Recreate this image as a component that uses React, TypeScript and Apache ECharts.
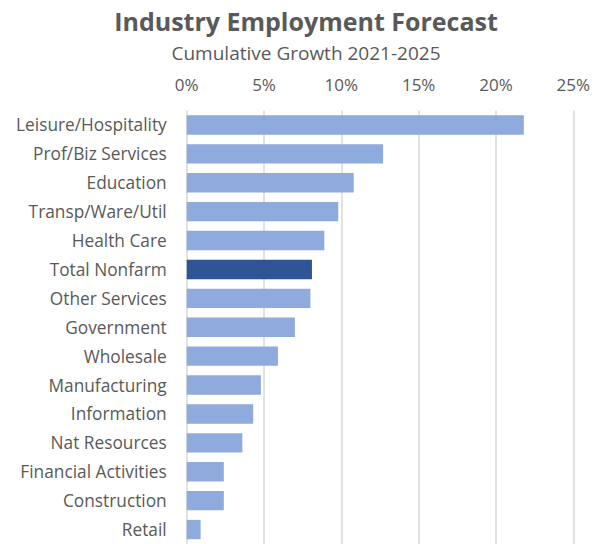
import React, { useEffect, useRef } from "react";
import * as echarts from "echarts";

const categories = [
  "Leisure/Hospitality",
  "Prof/Biz Services",
  "Education",
  "Transp/Ware/Util",
  "Health Care",
  "Total Nonfarm",
  "Other Services",
  "Government",
  "Wholesale",
  "Manufacturing",
  "Information",
  "Nat Resources",
  "Financial Activities",
  "Construction",
  "Retail",
];
const growthPct = [21.8, 12.7, 10.8, 9.8, 8.9, 8.1, 8.0, 7.0, 5.9, 4.8, 4.3, 3.6, 2.4, 2.4, 0.9];
const highlightCategory = "Total Nonfarm";
const titleText = "Industry Employment Forecast";
const subtitleText = "Cumulative Growth 2021-2025";

export default function App() {
  const ref = useRef<HTMLDivElement>(null);
  useEffect(() => {
    document.body.style.margin = "0";
    const chart = echarts.init(ref.current!, null, { renderer: "svg" });
    const font = "'Open Sans', sans-serif";
    chart.setOption({
      animation: false,
      title: [
        {
          text: titleText,
          left: 306,
          textAlign: "center",
          top: 8,
          padding: 0,
          textStyle: { fontFamily: font, fontSize: 25, fontWeight: "bold", color: "#595959" },
        },
        {
          text: subtitleText,
          left: 306,
          textAlign: "center",
          top: 43,
          padding: 0,
          textStyle: { fontFamily: font, fontSize: 19, fontWeight: "normal", color: "#595959" },
        },
      ],
      grid: { left: 186.7, right: 29.7, top: 110.5, bottom: -1.5, containLabel: false },
      xAxis: {
        type: "value",
        position: "top",
        min: 0,
        max: 25,
        interval: 5,
        axisLine: { show: false },
        axisTick: { show: false },
        axisLabel: {
          formatter: (v: number) => v + "%",
          fontFamily: font,
          fontSize: 17,
          color: "#595959",
          margin: 18,
        },
        splitLine: { show: true, lineStyle: { color: "#D9D9D9", width: 1.5 } },
      },
      yAxis: {
        type: "category",
        data: categories,
        inverse: true,
        axisLine: { show: false },
        axisTick: { show: false },
        axisLabel: { fontFamily: font, fontSize: 17.3, color: "#595959", margin: 20 },
      },
      series: [
        {
          type: "bar",
          barCategoryGap: "33%",
          data: growthPct.map((v, i) => ({
            value: v,
            itemStyle: { color: categories[i] === highlightCategory ? "#2F5597" : "#8FAADC" },
          })),
        },
      ],
    });
    return () => chart.dispose();
  }, []);
  return <div ref={ref} style={{ width: 603, height: 544 }} />;
}
